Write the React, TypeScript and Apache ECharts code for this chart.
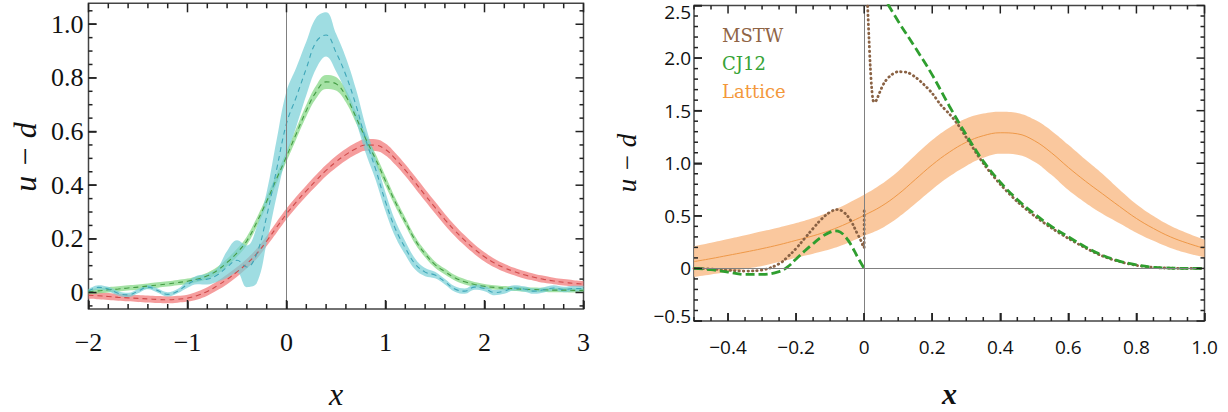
import React, { useEffect, useRef } from 'react';
import * as echarts from 'echarts';

// ---------------- Left panel data ----------------
const leftX = [-2.0, -1.9, -1.8, -1.7, -1.6, -1.5, -1.4, -1.3, -1.2, -1.1, -1.0, -0.9, -0.8, -0.7, -0.6, -0.5, -0.4, -0.3, -0.2, -0.1, 0.0, 0.1, 0.2, 0.3, 0.4, 0.5, 0.6, 0.7, 0.8, 0.9, 1.0, 1.1, 1.2, 1.3, 1.4, 1.5, 1.6, 1.7, 1.8, 1.9, 2.0, 2.1, 2.2, 2.3, 2.4, 2.5, 2.6, 2.7, 2.8, 2.9, 3.0];

const redMid = [-0.010, -0.012, -0.015, -0.018, -0.020, -0.022, -0.024, -0.026, -0.027, -0.025, -0.021,
  -0.011, 0.004, 0.025, 0.049, 0.077, 0.108, 0.145, 0.192, 0.243, 0.293,
  0.338, 0.379, 0.418, 0.455, 0.487, 0.514, 0.536, 0.550, 0.549, 0.533,
  0.498, 0.456, 0.410, 0.363, 0.317, 0.272, 0.231, 0.194, 0.161, 0.133,
  0.110, 0.092, 0.078, 0.066, 0.057, 0.049, 0.043, 0.038, 0.034, 0.031];
const redHalf = [0.013, 0.013, 0.013, 0.013, 0.013, 0.013, 0.013, 0.013, 0.013, 0.013, 0.013,
  0.015, 0.016, 0.017, 0.018, 0.018, 0.018, 0.019, 0.019, 0.020, 0.020,
  0.020, 0.020, 0.021, 0.021, 0.022, 0.022, 0.022, 0.022, 0.022, 0.022,
  0.022, 0.022, 0.022, 0.022, 0.022, 0.021, 0.020, 0.019, 0.018, 0.017,
  0.016, 0.015, 0.014, 0.014, 0.013, 0.013, 0.012, 0.012, 0.012, 0.012];

const greenMid = [0.003, 0.006, 0.010, 0.013, 0.017, 0.020, 0.024, 0.028, 0.032, 0.037, 0.042,
  0.050, 0.062, 0.082, 0.112, 0.148, 0.193, 0.262, 0.340, 0.424, 0.507,
  0.593, 0.678, 0.748, 0.785, 0.778, 0.732, 0.655, 0.573, 0.497, 0.416,
  0.336, 0.265, 0.195, 0.144, 0.104, 0.078, 0.055, 0.040, 0.030, 0.023,
  0.019, 0.016, 0.014, 0.012, 0.011, 0.010, 0.009, 0.009, 0.008, 0.008];
const greenHalf = [0.010, 0.010, 0.010, 0.010, 0.010, 0.010, 0.010, 0.010, 0.010, 0.010, 0.010,
  0.011, 0.012, 0.013, 0.014, 0.015, 0.016, 0.017, 0.018, 0.018, 0.019,
  0.020, 0.022, 0.024, 0.026, 0.025, 0.023, 0.021, 0.020, 0.019, 0.018,
  0.016, 0.015, 0.014, 0.013, 0.012, 0.011, 0.010, 0.010, 0.009, 0.009,
  0.008, 0.008, 0.008, 0.008, 0.008, 0.008, 0.008, 0.008, 0.008, 0.008];

const cyanMid = [0.005, 0.019, 0.013, -0.003, -0.009, 0.005, 0.020, 0.007, -0.007, 0.005, 0.030,
  0.047, 0.050, 0.065, 0.095, 0.120, 0.095, 0.145, 0.285, 0.458, 0.630,
  0.730, 0.835, 0.935, 0.960, 0.895, 0.810, 0.700, 0.570, 0.460, 0.338,
  0.237, 0.166, 0.106, 0.076, 0.065, 0.040, 0.013, 0.005, 0.020, 0.015,
  0.000, 0.005, 0.017, 0.013, 0.005, 0.010, 0.017, 0.011, 0.015, 0.015];
const cyanLow = [-0.003, 0.011, 0.005, -0.011, -0.017, -0.003, 0.012, -0.001, -0.015, -0.003, 0.018,
  0.031, 0.030, 0.040, 0.055, 0.075, 0.020, 0.035, 0.185, 0.358, 0.510,
  0.620, 0.735, 0.835, 0.880, 0.825, 0.745, 0.640, 0.520, 0.420, 0.303,
  0.207, 0.141, 0.086, 0.061, 0.053, 0.030, 0.003, -0.005, 0.010, 0.005,
  -0.010, -0.005, 0.007, 0.003, -0.005, 0.000, 0.007, 0.001, 0.005, 0.005];
const cyanHigh = [0.013, 0.027, 0.021, 0.005, -0.001, 0.013, 0.028, 0.015, 0.001, 0.013, 0.042,
  0.063, 0.070, 0.090, 0.155, 0.195, 0.175, 0.245, 0.375, 0.568, 0.750,
  0.840, 0.935, 1.025, 1.045, 0.965, 0.875, 0.760, 0.620, 0.500, 0.373,
  0.267, 0.191, 0.126, 0.091, 0.077, 0.050, 0.023, 0.015, 0.030, 0.025,
  0.010, 0.015, 0.027, 0.023, 0.015, 0.020, 0.027, 0.021, 0.025, 0.025];

// ---------------- Right panel data ----------------
const latX = [-0.5, -0.45, -0.4, -0.35, -0.3, -0.25, -0.2, -0.15, -0.1, -0.05, 0.0, 0.05, 0.1, 0.15, 0.2, 0.25, 0.3, 0.35, 0.4, 0.45, 0.5, 0.55, 0.6, 0.65, 0.7, 0.75, 0.8, 0.85, 0.9, 0.95, 1.0];
const latMid = [0.065, 0.093, 0.124, 0.155, 0.188, 0.225, 0.267, 0.31, 0.362, 0.428, 0.505,
  0.59, 0.705, 0.845, 0.985, 1.105, 1.2, 1.262, 1.29, 1.28, 1.215,
  1.10, 0.96, 0.83, 0.71, 0.59, 0.475, 0.38, 0.30, 0.24, 0.19];
const latHalf = [0.145, 0.15, 0.155, 0.16, 0.165, 0.165, 0.165, 0.17, 0.18, 0.188, 0.195,
  0.21, 0.22, 0.23, 0.235, 0.232, 0.225, 0.21, 0.2, 0.198, 0.2,
  0.21, 0.215, 0.205, 0.19, 0.16, 0.135, 0.118, 0.105, 0.095, 0.085];

const cjNegX = [-0.5, -0.45, -0.4, -0.35, -0.3, -0.25, -0.225, -0.2, -0.175, -0.15, -0.125, -0.1, -0.085, -0.07, -0.055, -0.04, -0.02, 0.0];
const cjNegY = [0.0, -0.012, -0.035, -0.057, -0.057, -0.03, 0.015, 0.09, 0.165, 0.235, 0.3, 0.345, 0.357, 0.345, 0.3, 0.232, 0.112, 0.0];
const cjPosX = [0.05, 0.1, 0.15, 0.2, 0.25, 0.3, 0.35, 0.4, 0.45, 0.5, 0.55, 0.6, 0.65, 0.7, 0.75, 0.8, 0.85, 0.9, 0.95, 1.0];
const cjPosY = [2.62, 2.35, 2.10, 1.84, 1.545, 1.27, 1.02, 0.82, 0.655, 0.52, 0.40, 0.30, 0.205, 0.125, 0.07, 0.033, 0.012, 0.003, 0.0, 0.0];

const msNegX = [-0.5, -0.45, -0.4, -0.35, -0.3, -0.25, -0.225, -0.2, -0.175, -0.15, -0.125, -0.1, -0.08, -0.06, -0.04, -0.02, -0.01, -0.002];
const msNegY = [0.0, -0.006, -0.018, -0.025, -0.015, 0.044, 0.11, 0.19, 0.285, 0.38, 0.47, 0.536, 0.56, 0.535, 0.457, 0.33, 0.267, 0.2];
const msJumpX = [0.0, 0.0];
const msJumpY = [0.2, 0.56];
const msPosX = [0.006, 0.01, 0.014, 0.018, 0.022, 0.026, 0.03, 0.036, 0.045, 0.06, 0.08, 0.1, 0.125, 0.15, 0.175, 0.2, 0.225, 0.25, 0.275, 0.3, 0.35, 0.4, 0.45, 0.5, 0.55, 0.6, 0.65, 0.7, 0.75, 0.8, 0.85, 0.9, 0.95, 1.0];
const msPosY = [2.75, 2.5, 2.2, 1.92, 1.72, 1.6, 1.58, 1.6, 1.67, 1.77, 1.84, 1.87, 1.865, 1.82, 1.75, 1.665, 1.555, 1.47, 1.37, 1.245, 1.0, 0.80, 0.635, 0.50, 0.385, 0.285, 0.195, 0.118, 0.065, 0.029, 0.01, 0.002, 0.0, 0.0];

// ---------------- Ticks / labels ----------------
const leftXMajor = [-2, -1, 0, 1, 2, 3];
const leftYMajor = [0, 0.2, 0.4, 0.6, 0.8, 1.0];
const rightXMajor = [-0.4, -0.2, 0, 0.2, 0.4, 0.6, 0.8, 1.0];
const rightYMajor = [-0.5, 0, 0.5, 1.0, 1.5, 2.0, 2.5];
const legendNames = ['MSTW', 'CJ12', 'Lattice'];
const legendColors = ['#8f6445', '#36a336', '#f3983c'];

const LX = [-2, 3];
const LY = [-0.0615, 1.078];
const RX = [-0.5, 1.0];
const RY = [-0.5, 2.5];

function minorTicks(start: number, end: number, step: number, majors: number[]) {
  const out: number[] = [];
  const k0 = Math.ceil(start / step - 1e-6);
  const k1 = Math.floor(end / step + 1e-6);
  for (let k = k0; k <= k1; k++) {
    const v = +(k * step).toFixed(4);
    if (!majors.some((m) => Math.abs(m - v) < 1e-6)) out.push(v);
  }
  return out;
}

const numStr = (v: number, dec: number) => {
  if (Math.abs(v) < 1e-9) return '0';
  return (v < 0 ? '\u2212' : '') + Math.abs(v).toFixed(dec);
};

const pairs = (xs: number[], ys: number[]) => xs.map((x, i) => [x, ys[i]]);

// Frame ticks (mirrored on both sides, pointing inward), placed through the axes' own scales
function tickSeries(dim: 'x' | 'y', ai: number, values: number[], len: number, xr: number[], yr: number[]) {
  const data = values.map((v) => (dim === 'x' ? [v, yr[0]] : [xr[0], v]));
  return {
    type: 'custom', xAxisIndex: ai, yAxisIndex: ai, silent: true, z: 10, clip: false,
    encode: { x: 0, y: 1 },
    data,
    renderItem: (params: any, api: any) => {
      const st = { stroke: '#222', lineWidth: 1.5, fill: null };
      if (dim === 'x') {
        const v = api.value(0);
        const a = api.coord([v, yr[0]]);
        const b = api.coord([v, yr[1]]);
        return {
          type: 'group', children: [
            { type: 'line', shape: { x1: a[0], y1: a[1], x2: a[0], y2: a[1] - len }, style: { ...st } },
            { type: 'line', shape: { x1: b[0], y1: b[1], x2: b[0], y2: b[1] + len }, style: { ...st } },
          ],
        };
      }
      const v = api.value(1);
      const a = api.coord([xr[0], v]);
      const b = api.coord([xr[1], v]);
      return {
        type: 'group', children: [
          { type: 'line', shape: { x1: a[0], y1: a[1], x2: a[0] + len, y2: a[1] }, style: { ...st } },
          { type: 'line', shape: { x1: b[0], y1: b[1], x2: b[0] - len, y2: b[1] }, style: { ...st } },
        ],
      };
    },
  };
}

// bands: stacked on a hidden category axis whose evenly spaced categories span the grid exactly
function band(id: string, lo: number[], hi: number[], color: string, opacity: number, catAxis: number, valAxis: number) {
  return [
    {
      type: 'line', name: id + '-lo', xAxisIndex: catAxis, yAxisIndex: valAxis, stack: id, stackStrategy: 'all',
      data: lo, symbol: 'none', smooth: 0.4, lineStyle: { opacity: 0, width: 0 }, silent: true,
    },
    {
      type: 'line', name: id + '-band', xAxisIndex: catAxis, yAxisIndex: valAxis, stack: id, stackStrategy: 'all',
      data: hi.map((h, i) => h - lo[i]), symbol: 'none', smooth: 0.4, lineStyle: { opacity: 0, width: 0 },
      areaStyle: { color, opacity }, silent: true,
    },
  ];
}

function curve(xs: number[], ys: number[], color: string, width: number, type: any, ai: number, smooth: number | boolean = 0.4, cap = 'butt', extra: any = {}) {
  return {
    type: 'line', xAxisIndex: ai, yAxisIndex: ai, data: pairs(xs, ys), symbol: 'none', smooth,
    lineStyle: { color, width, type, cap }, silent: true, ...extra,
  };
}

const zeroLine = (data: any[]) => ({
  silent: true, symbol: 'none', label: { show: false },
  lineStyle: { color: '#808080', width: 1, type: 'solid' }, data,
});

export default function App() {
  const ref = useRef<HTMLDivElement>(null);
  useEffect(() => {
    if (!ref.current) return;
    const chart = echarts.init(ref.current, undefined, { renderer: 'svg' });

    const redLo = redMid.map((v, i) => v - redHalf[i]);
    const redHi = redMid.map((v, i) => v + redHalf[i]);
    const greenLo = greenMid.map((v, i) => v - greenHalf[i]);
    const greenHi = greenMid.map((v, i) => v + greenHalf[i]);
    const latLo = latMid.map((v, i) => v - latHalf[i]);
    const latHi = latMid.map((v, i) => v + latHalf[i]);

    const leftLabel = { fontFamily: 'Liberation Serif', fontSize: 26, color: '#111' };
    const rightLabel = { fontFamily: 'Open Sans', fontSize: 19, color: '#111' };

    const rightYFormatter = (v: number) => {
      const s = numStr(v, 1);
      if (Math.abs(v - 2.5) < 1e-9) return '{top|' + s + '}';
      if (Math.abs(v + 0.5) < 1e-9) return '{bot|' + s + '}';
      return s;
    };

    const valAxis = (gridIndex: number, r: number[], position: string, majors: number[], label: any) => ({
      type: 'value', gridIndex, min: r[0], max: r[1], position,
      splitLine: { show: false }, axisLine: { show: false, onZero: false },
      axisTick: { show: true, inside: true, length: 8, customValues: majors, lineStyle: { color: '#222', width: 1.5 } },
      axisLabel: { show: true, customValues: majors, ...label },
    });

    const xAxes: any[] = [
      valAxis(0, LX, 'bottom', leftXMajor, { ...leftLabel, margin: 20, formatter: (v: number) => numStr(v, 0) }),
      valAxis(1, RX, 'bottom', rightXMajor, { ...rightLabel, margin: 16, formatter: (v: number) => numStr(v, 1) }),
      { type: 'category', gridIndex: 0, data: leftX.map(String), boundaryGap: false, show: false },
      { type: 'category', gridIndex: 1, data: latX.map(String), boundaryGap: false, show: false },
    ];
    const yAxes: any[] = [
      valAxis(0, LY, 'left', leftYMajor, { ...leftLabel, margin: 5, formatter: (v: number) => numStr(v, 1) }),
      valAxis(1, RY, 'left', rightYMajor, {
        ...rightLabel, margin: 3, formatter: rightYFormatter,
        rich: {
          top: { fontFamily: 'Open Sans', fontSize: 19, color: '#111', padding: [12, 0, 0, 0] },
          bot: { fontFamily: 'Open Sans', fontSize: 19, color: '#111', padding: [0, 0, 10, 0] },
        },
      }),
    ];

    const series: any[] = [
      ...band('red', redLo, redHi, '#f28484', 0.8, 2, 0),
      ...band('green', greenLo, greenHi, '#7fd67f', 0.7, 2, 0),
      ...band('cyan', cyanLow, cyanHigh, '#76cfd6', 0.7, 2, 0),
      curve(leftX, redMid, '#cf4a4a', 1.1, [5, 4], 0),
      curve(leftX, greenMid, '#449c44', 1.1, [5, 4], 0),
      curve(leftX, cyanMid, '#3ea6b8', 1.1, [5, 4], 0, 0.4, 'butt', { markLine: zeroLine([{ xAxis: 0 }]) }),
      tickSeries('x', 0, leftXMajor, 9, LX, LY),
      tickSeries('x', 0, minorTicks(-2, 3, 0.2, leftXMajor), 5, LX, LY),
      tickSeries('y', 0, leftYMajor, 8, LX, LY),
      tickSeries('y', 0, minorTicks(-0.05, 1.05, 0.05, leftYMajor), 4, LX, LY),

      ...band('lat', latLo, latHi, '#f9c293', 0.9, 3, 1),
      curve(latX, latMid, '#ee9848', 1, 'solid', 1, 0.4, 'butt', { markLine: zeroLine([{ xAxis: 0 }, { yAxis: 0 }]) }),
      curve(msNegX, msNegY, '#8a6244', 2.8, [0.5, 4], 1, 0.4, 'round'),
      curve(msJumpX, msJumpY, '#8a6244', 2.8, [0.5, 4], 1, false, 'round'),
      curve(msPosX, msPosY, '#8a6244', 2.8, [0.5, 4], 1, 0.3, 'round'),
      curve(cjNegX, cjNegY, '#2f9e2f', 2.8, [9, 4], 1),
      curve(cjPosX, cjPosY, '#2f9e2f', 2.8, [9, 4], 1),
      tickSeries('x', 1, rightXMajor, 8, RX, RY),
      tickSeries('x', 1, minorTicks(-0.5, 1.0, 0.05, rightXMajor), 4, RX, RY),
      tickSeries('y', 1, rightYMajor, 8, RX, RY),
      tickSeries('y', 1, minorTicks(-0.5, 2.5, 0.1, rightYMajor), 4, RX, RY),
    ];

    const serif = 'Liberation Serif';
    const graphic: any[] = [
      { type: 'text', x: 25, y: 157, rotation: Math.PI / 2, style: { text: 'u \u2212 d', fontFamily: serif, fontStyle: 'italic', fontSize: 32, fill: '#111', align: 'center', verticalAlign: 'middle' } },
      { type: 'text', x: 336, y: 394, style: { text: 'x', fontFamily: serif, fontStyle: 'italic', fontSize: 32, lineHeight: 30, fill: '#111', align: 'center', verticalAlign: 'middle' } },
      { type: 'text', x: 627, y: 163, rotation: Math.PI / 2, style: { text: 'u \u2212 d', fontFamily: serif, fontStyle: 'italic', fontSize: 27, fill: '#111', align: 'center', verticalAlign: 'middle' } },
      { type: 'text', x: 949.5, y: 393, style: { text: 'x', fontFamily: serif, fontStyle: 'italic', fontWeight: 'bold', fontSize: 30, lineHeight: 28, fill: '#111', align: 'center', verticalAlign: 'middle' } },
      ...legendNames.map((n, i) => ({
        type: 'text', x: 722, y: 35 + i * 28,
        style: { text: n, fontFamily: 'DejaVu Serif', fontSize: 18, fill: legendColors[i], align: 'left', verticalAlign: 'middle' },
      })),
    ];

    chart.setOption({
      animation: false,
      backgroundColor: '#fff',
      grid: [
        { left: 88.5, top: 3.3, width: 495, height: 305.7, show: true, borderColor: '#444', borderWidth: 1.5, containLabel: false },
        { left: 694, top: 5.5, width: 510.5, height: 315.5, show: true, borderColor: '#444', borderWidth: 1.5, containLabel: false },
      ],
      xAxis: xAxes,
      yAxis: yAxes,
      series,
      graphic,
    });
    return () => chart.dispose();
  }, []);
  return <div ref={ref} style={{ position: 'fixed', left: 0, top: 0, width: 1228, height: 412, background: '#fff' }} />;
}
